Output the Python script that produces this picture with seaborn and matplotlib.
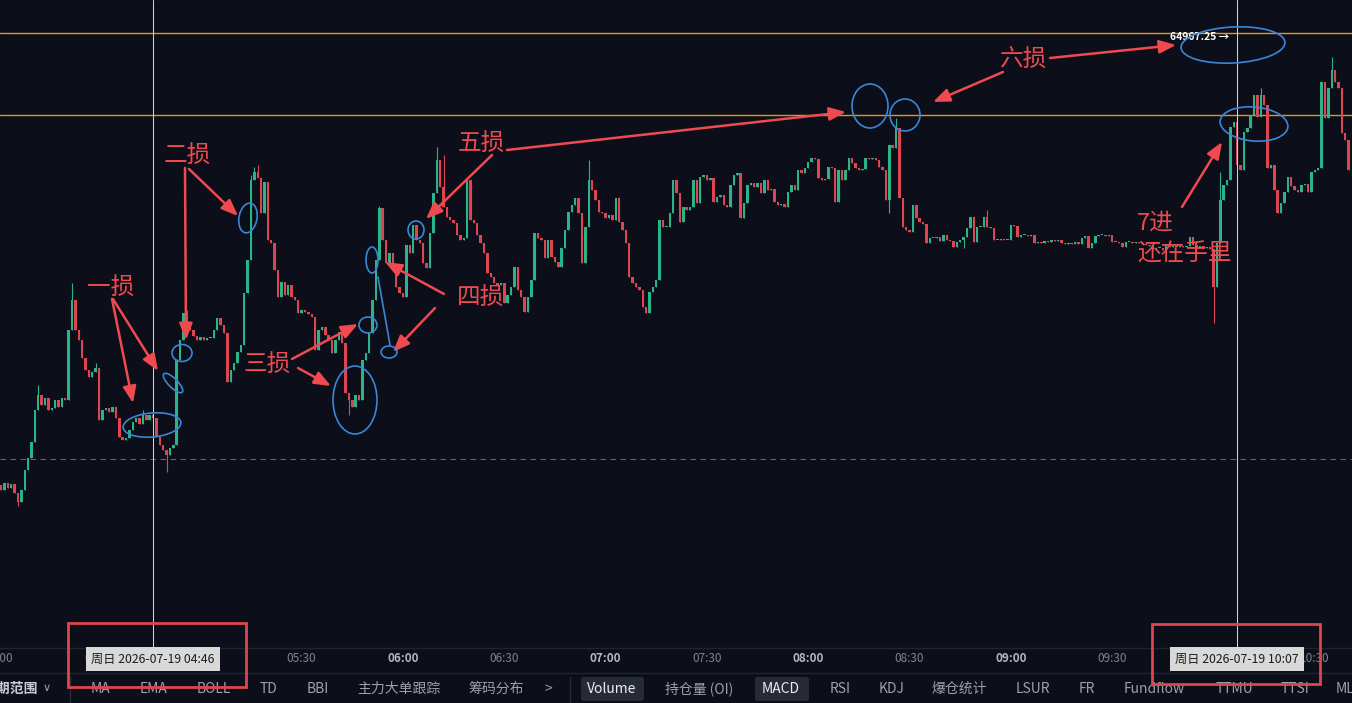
import numpy as np
import pandas as pd
import seaborn as sns
import matplotlib.pyplot as plt
from matplotlib.patches import Ellipse, Rectangle, FancyArrowPatch, FancyBboxPatch
from matplotlib.lines import Line2D
from matplotlib.transforms import Affine2D

BG = "#0c0f19"
UP = "#2bb38a"
DOWN = "#dc4652"
ANNO = "#ee4a50"
BLUE = "#3a86d8"
ORANGE = "#f0901a"

# 1分钟K线收盘价 (04:00 起)
open_first = 64512
close = [
    64515, 64510, 64517, 64512, 64516, 64507, 64498, 64510, 64530, 64542, 64558, 64590, 64605, 64595, 64602, 64590, 64592, 64600, 64593, 64602,
    64600, 64670, 64700, 64670, 64660, 64642, 64630, 64623, 64628, 64632, 64580, 64590, 64592, 64588, 64593, 64582, 64563, 64560, 64562, 64570,
    64578, 64582, 64576, 64585, 64580, 64585, 64582, 64563, 64555, 64550, 64545, 64552, 64555, 64640, 64660, 64687, 64678, 64670, 64664, 64660,
    64663, 64660, 64662, 64662, 64670, 64682, 64675, 64667, 64618, 64630, 64637, 64648, 64655, 64707, 64740, 64820, 64828, 64822, 64787, 64818,
    64760, 64757, 64730, 64703, 64718, 64705, 64715, 64703, 64700, 64687, 64690, 64688, 64686, 64683, 64650, 64670, 64673, 64665, 64660, 64647,
    64660, 64668, 64657, 64607, 64600, 64593, 64605, 64600, 64640, 64647, 64667, 64700, 64740, 64792, 64760, 64737, 64747, 64735, 64713, 64707,
    64703, 64755, 64747, 64775, 64760, 64757, 64737, 64732, 64767, 64807, 64840, 64813, 64793, 64783, 64780, 64777, 64765, 64760, 64762, 64820,
    64780, 64777, 64765, 64757, 64747, 64727, 64723, 64717, 64715, 64717, 64697, 64705, 64713, 64733, 64710, 64703, 64688, 64703, 64720, 64767,
    64762, 64760, 64742, 64760, 64743, 64738, 64733, 64752, 64770, 64788, 64795, 64802, 64787, 64737, 64773, 64820, 64810, 64800, 64788, 64787,
    64782, 64785, 64780, 64802, 64778, 64770, 64757, 64723, 64717, 64713, 64710, 64693, 64687, 64708, 64713, 64720, 64780, 64773, 64773, 64787,
    64820, 64807, 64778, 64793, 64790, 64793, 64820, 64797, 64823, 64825, 64820, 64822, 64798, 64803, 64805, 64795, 64793, 64815, 64825, 64827,
    64782, 64797, 64815, 64817, 64813, 64817, 64807, 64820, 64810, 64811, 64798, 64795, 64796, 64793, 64808, 64815, 64810, 64830, 64827, 64832,
    64838, 64842, 64841, 64822, 64820, 64821, 64833, 64832, 64798, 64830, 64820, 64830, 64842, 64837, 64832, 64830, 64831, 64842, 64841, 64842,
    64840, 64833, 64830, 64800, 64855, 64852, 64872, 64802, 64773, 64770, 64768, 64795, 64782, 64778, 64776, 64757, 64762, 64762, 64763, 64759,
    64765, 64760, 64759, 64753, 64758, 64760, 64763, 64772, 64783, 64758, 64773, 64773, 64783, 64773, 64772, 64760, 64760, 64761, 64760, 64760,
    64775, 64774, 64763, 64765, 64765, 64764, 64765, 64757, 64758, 64757, 64759, 64758, 64760, 64759, 64760, 64757, 64756, 64757, 64756, 64758,
    64756, 64762, 64764, 64752, 64757, 64764, 64765, 64765, 64764, 64765, 64758, 64758, 64757, 64753, 64758, 64758, 64757, 64758, 64757, 64756,
    64755, 64754, 64751, 64752, 64752, 64750, 64754, 64753, 64754, 64753, 64754, 64753, 64754, 64763, 64755, 64753, 64754, 64752, 64753, 64751,
    64713, 64757, 64800, 64815, 64820, 64873, 64878, 64835, 64830, 64868, 64872, 64885, 64905, 64883, 64905, 64895, 64832, 64835, 64810, 64787,
    64797, 64808, 64823, 64814, 64810, 64808, 64815, 64816, 64808, 64828, 64830, 64832, 64918, 64882, 64912, 64930, 64918, 64912, 64867, 64860,
    64830,
]
wick_high = {12: 64615, 22: 64717, 29: 64637, 43: 64590, 56: 64690, 75: 64825, 76: 64833, 77: 64835,
             113: 64794, 130: 64853, 132: 64845, 175: 64840, 184: 64803, 266: 64882, 293: 64790,
             362: 64828, 367: 64880, 374: 64912, 395: 64943}
wick_low = {6: 64494, 50: 64528, 104: 64585, 264: 64787, 286: 64752, 360: 64677}

level_top = 64967.25
level_entry = 64885
level_dash = 64541

# 05:00 与 10:00 被十字光标时间框遮住
time_ticks = [0, 30, 90, 120, 150, 180, 210, 240, 270, 300, 330, 390]
time_labels = ["04:00", "04:30", "05:30", "06:00", "06:30", "07:00", "07:30",
               "08:00", "08:30", "09:00", "09:30", "10:30"]
hour_bold = ["06:00", "07:00", "08:00", "09:00"]
cross_minutes = [46, 367]
cross_labels = ["周日 2026-07-19 04:46", "周日 2026-07-19 10:07"]

toolbar_labels = ["周期范围", "∨", "MA", "EMA", "BOLL", "TD", "BBI", "主力大单跟踪", "筹码分布", ">",
                  "Volume", "持仓量 (OI)", "MACD", "RSI", "KDJ", "爆仓统计", "LSUR", "FR",
                  "Fundflow", "TTMU", "TTSI", "ML"]
toolbar_x = [38, 47, 100, 154, 214, 269, 318, 399, 496, 548, 612, 699, 781, 840, 892, 959,
             1033, 1087, 1154, 1234, 1295, 1345]

note_texts = ["一损", "二损", "三损", "四损", "五损", "六损", "7进", "还在手里"]

df = pd.DataFrame({"minute": np.arange(len(close)), "close": close}, dtype=float)
df["open"] = df["close"].shift(1).fillna(open_first)
df["high"] = df[["open", "close"]].max(axis=1)
df["low"] = df[["open", "close"]].min(axis=1)
for k, v in wick_high.items():
    df.loc[k, "high"] = v
for k, v in wick_low.items():
    df.loc[k, "low"] = v
df["color"] = np.where(df["close"] >= df["open"], UP, DOWN)
df["bottom"] = df[["open", "close"]].min(axis=1)
df["body"] = (df["close"] - df["open"]).abs().clip(lower=0.9)

sns.set_theme(style="dark", rc={"axes.facecolor": BG, "figure.facecolor": BG,
                                "savefig.facecolor": BG})
plt.rcParams["font.family"] = ["Noto Sans CJK SC", "DejaVu Sans"]

W, H = 1352, 703
fig = plt.figure(figsize=(W / 100, H / 100), dpi=100)
PX = Affine2D().scale(1 / W, -1 / H).translate(0, 1) + fig.transFigure

ax = fig.add_axes([0, 55 / H, 1, 648 / H])
ax.set_xlim(0.68, 401.0)
ax.set_ylim(64352, 65000)

ax.vlines(df["minute"], df["low"], df["high"], colors=df["color"], linewidth=0.8, zorder=2)
ax.bar(df["minute"], df["body"], bottom=df["bottom"], width=0.72, color=df["color"],
       linewidth=0, zorder=3)

ax.axhline(level_top, color=ORANGE, lw=1.0, zorder=1)
ax.axhline(level_entry, color=ORANGE, lw=1.0, zorder=1)
ax.axhline(level_dash, color="#b0404c", lw=0.8, ls=(0, (5, 4)), zorder=1)
for m in cross_minutes:
    ax.axvline(m, color="#cfd2d6", lw=0.75, zorder=4)
ax.text(347.1, level_top - 4, "64967.25 →", color="white", fontsize=7.5,
        fontweight="bold", va="center", ha="left", zorder=5)

ax.set_xticks([])
ax.set_yticks([])
for s in ["top", "left", "right"]:
    ax.spines[s].set_visible(False)
ax.spines["bottom"].set_color("#1f2430")
ax.spines["bottom"].set_linewidth(1)

for m, lab in zip(time_ticks, time_labels):
    bold = lab in hour_bold
    ax.text(m, -11 / 648, lab, transform=ax.get_xaxis_transform(), ha="center", va="center",
            fontsize=8.5, color="#b3b9c3" if bold else "#7d8491",
            fontweight="bold" if bold else "normal", clip_on=False)

# 十字光标时间框
for m, lab in zip(cross_minutes, cross_labels):
    xpx = -2.3 + 3.377 * m
    fig.text(xpx, 659, lab, transform=PX, ha="center", va="center", fontsize=8.8,
             color="#1b1b1b", zorder=4,
             bbox=dict(boxstyle="square,pad=0.42", fc="#d9d9d9", ec="none"))

# 底部工具栏
fig.add_artist(Line2D([0, W], [673, 673], transform=PX, color="#1f2430", lw=1))
for xs in [70, 570]:
    fig.add_artist(Line2D([xs, xs], [677, 703], transform=PX, color="#262b36", lw=1))
for x0, x1 in [(581, 644), (755, 809)]:
    fig.add_artist(FancyBboxPatch((x0, 677), x1 - x0, 24, boxstyle="round,pad=0,rounding_size=3",
                                  transform=PX, fc="#262b36", ec="none", zorder=1))
for lab, x in zip(toolbar_labels, toolbar_x):
    if lab == "周期范围":
        fig.text(x, 689, lab, transform=PX, ha="right", va="center", fontsize=10,
                 fontweight="bold", color="#c9cdd4")
    elif lab == "∨":
        fig.text(x, 688, lab, transform=PX, ha="center", va="center", fontsize=8,
                 color="#9ba1ab", family=["DejaVu Sans"])
    else:
        hl = lab in ["Volume", "MACD"]
        fig.text(x, 689, lab, transform=PX, ha="center", va="center", fontsize=10,
                 color="#eceef1" if hl else "#9ba1ab")

# 红色框
for x0, y0, x1, y1 in [(68, 623, 246, 687), (1152, 624, 1320, 684)]:
    fig.add_artist(Rectangle((x0, y0), x1 - x0, y1 - y0, transform=PX, fill=False,
                             ec="#e0454d", lw=2, zorder=6))

# 手绘标注
note_pos = [(111, 288), (187, 156), (267, 365), (481, 298), (481, 144), (1024, 60),
            (1137, 223), (1137, 254)]
for t, (x, y) in zip(note_texts, note_pos):
    ha = "left" if x == 1137 else "center"
    fig.text(x, y, t, transform=PX, ha=ha, va="center", fontsize=17, color=ANNO, zorder=6)

arrows = [((112, 299), (133, 403)), ((113, 299), (158, 371)), ((185, 168), (186, 340)),
          ((189, 169), (238, 216)), ((292, 359), (358, 324)), ((298, 368), (331, 386)),
          ((444, 294), (385, 262)), ((435, 308), (393, 352)), ((492, 155), (426, 219)),
          ((507, 150), (846, 112)), ((1050, 58), (1176, 45)), ((1003, 72), (933, 102)),
          ((1182, 207), (1222, 142))]
for a, b in arrows:
    fig.add_artist(FancyArrowPatch(a, b, transform=PX, arrowstyle="-|>,head_length=1.0,head_width=0.4",
                                   mutation_scale=10, color=ANNO, lw=1.8, shrinkA=0, shrinkB=0,
                                   zorder=6))

loops = [(152, 425, 58, 24, -5), (182, 353, 20, 17, 0), (173, 383, 26, 9, 45), (248, 218, 18, 30, 10),
         (355, 400, 44, 68, 0), (368, 325, 18, 16, 0), (372, 260, 12, 26, 0), (389, 352, 16, 12, 0),
         (416, 230, 16, 18, 0), (870, 106, 36, 44, 0), (905, 115, 30, 32, 0),
         (1233, 45, 104, 36, -3), (1254, 124, 68, 34, 5)]
for cx, cy, w, h, ang in loops:
    fig.add_artist(Ellipse((cx, cy), w, h, angle=ang, transform=PX, fill=False, ec=BLUE,
                           lw=1.2, zorder=6))
fig.add_artist(Line2D([378, 390], [277, 345], transform=PX, color=BLUE, lw=1.2, zorder=6))

fig.savefig("out.png", dpi=100, facecolor=BG)
